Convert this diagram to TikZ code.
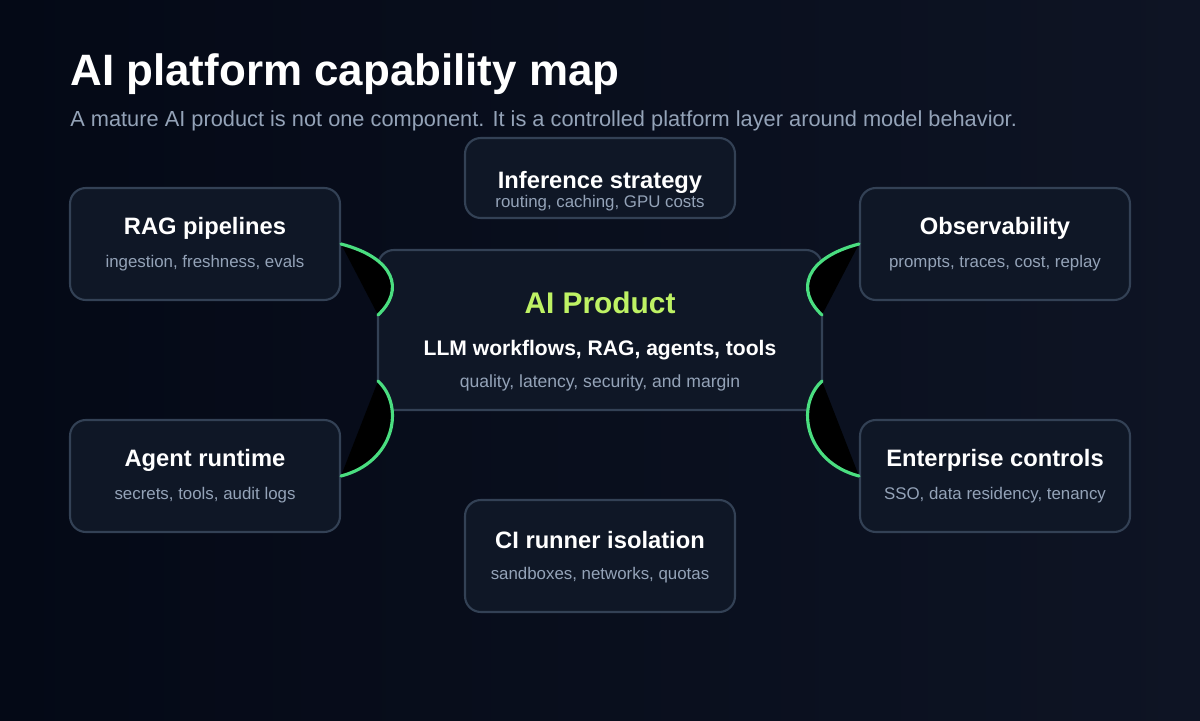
\documentclass[tikz,border=0pt]{standalone}
\usepackage{fontspec}
\setmainfont{Liberation Sans}
\usepackage{tikz}
\usetikzlibrary{positioning}
\definecolor{bgA}{HTML}{040916}
\definecolor{bgB}{HTML}{0E1424}
\definecolor{boxfill}{HTML}{0F1726}
\definecolor{boxline}{HTML}{334155}
\definecolor{subgray}{HTML}{94A3B8}
\definecolor{lime}{HTML}{BEF264}
\definecolor{linkgreen}{HTML}{4ADE80}

\begin{document}
\begin{tikzpicture}[x=0.02cm, y=-0.02cm,
  card/.style={rectangle, rounded corners=9pt, draw=boxline, line width=1.2pt,
    fill=boxfill, minimum width=5.4cm, minimum height=2.24cm, inner sep=0pt},
  %
  head/.style={text=white, font=\bfseries\fontsize{13.5}{16}\selectfont},
  %
  small/.style={text=subgray, font=\fontsize{9.6}{11}\selectfont},
  %
  link/.style={draw=linkgreen, line width=1.8pt, fill=black, line cap=round}
  ]

  % background
  \shade[left color=bgA, right color=bgB] (0,0) rectangle (1200,720);
  \useasboundingbox (0,0) rectangle (1200,720);

  \node [anchor=west, inner sep=0pt, text=white, font=\bfseries\fontsize{25}{30}\selectfont]
    (title) at (70,74) {AI platform capability map};
  \node [anchor=west, inner sep=0pt, text=subgray, font=\fontsize{12.4}{15}\selectfont]
    (subtitle) at (70,121) {A mature AI product is not one component. It is a controlled platform layer around model behavior.};

  % cards
  \node [card] (rag) at (205,244) {};
  \node [card, minimum height=1.6cm] (infer) at (600,178) {};
  \node [card] (obs) at (995,244) {};
  \node [card] (agent) at (205,476) {};
  \node [card] (ent) at (995,476) {};
  \node [card] (ci) at (600,556) {};
  \node [card, minimum width=8.88cm, minimum height=3.2cm] (prod) at (600,330) {};

  \node [head] (ragT) at (205,228) {RAG pipelines};
  \node [small] (ragS) at (205,263) {ingestion, freshness, evals};
  \node [head] (inferT) at (600,182) {Inference strategy};
  \node [small] (inferS) at (600,203) {routing, caching, GPU costs};
  \node [head] (obsT) at (995,228) {Observability};
  \node [small] (obsS) at (995,263) {prompts, traces, cost, replay};
  \node [head] (agentT) at (205,460) {Agent runtime};
  \node [small] (agentS) at (205,495) {secrets, tools, audit logs};
  \node [head] (entT) at (995,460) {Enterprise controls};
  \node [small] (entS) at (995,495) {SSO, data residency, tenancy};
  \node [head] (ciT) at (600,540) {CI runner isolation};
  \node [small] (ciS) at (600,575) {sandboxes, networks, quotas};

  \node [text=lime, font=\bfseries\fontsize{17}{20}\selectfont] (prodT) at (600,303) {AI Product};
  \node [head, font=\bfseries\fontsize{12}{15}\selectfont] (prodM) at (600,350) {LLM workflows, RAG, agents, tools};
  \node [small, font=\fontsize{10}{12}\selectfont] (prodS) at (600,383) {quality, latency, security, and margin};

  % link ends on the product card
  \coordinate (pWtop) at (378,315);
  \coordinate (pWbot) at (378,381);
  \coordinate (pEtop) at (822,315);
  \coordinate (pEbot) at (822,381);

  % links
  \draw [link] (rag.east) .. controls (395,258) and (405,290) .. (pWtop);
  \draw [link] (agent.east) .. controls (395,462) and (405,406) .. (pWbot);
  \draw [link] (obs.west) .. controls (805,258) and (795,290) .. (pEtop);
  \draw [link] (ent.west) .. controls (805,462) and (795,406) .. (pEbot);

\end{tikzpicture}
\end{document}
